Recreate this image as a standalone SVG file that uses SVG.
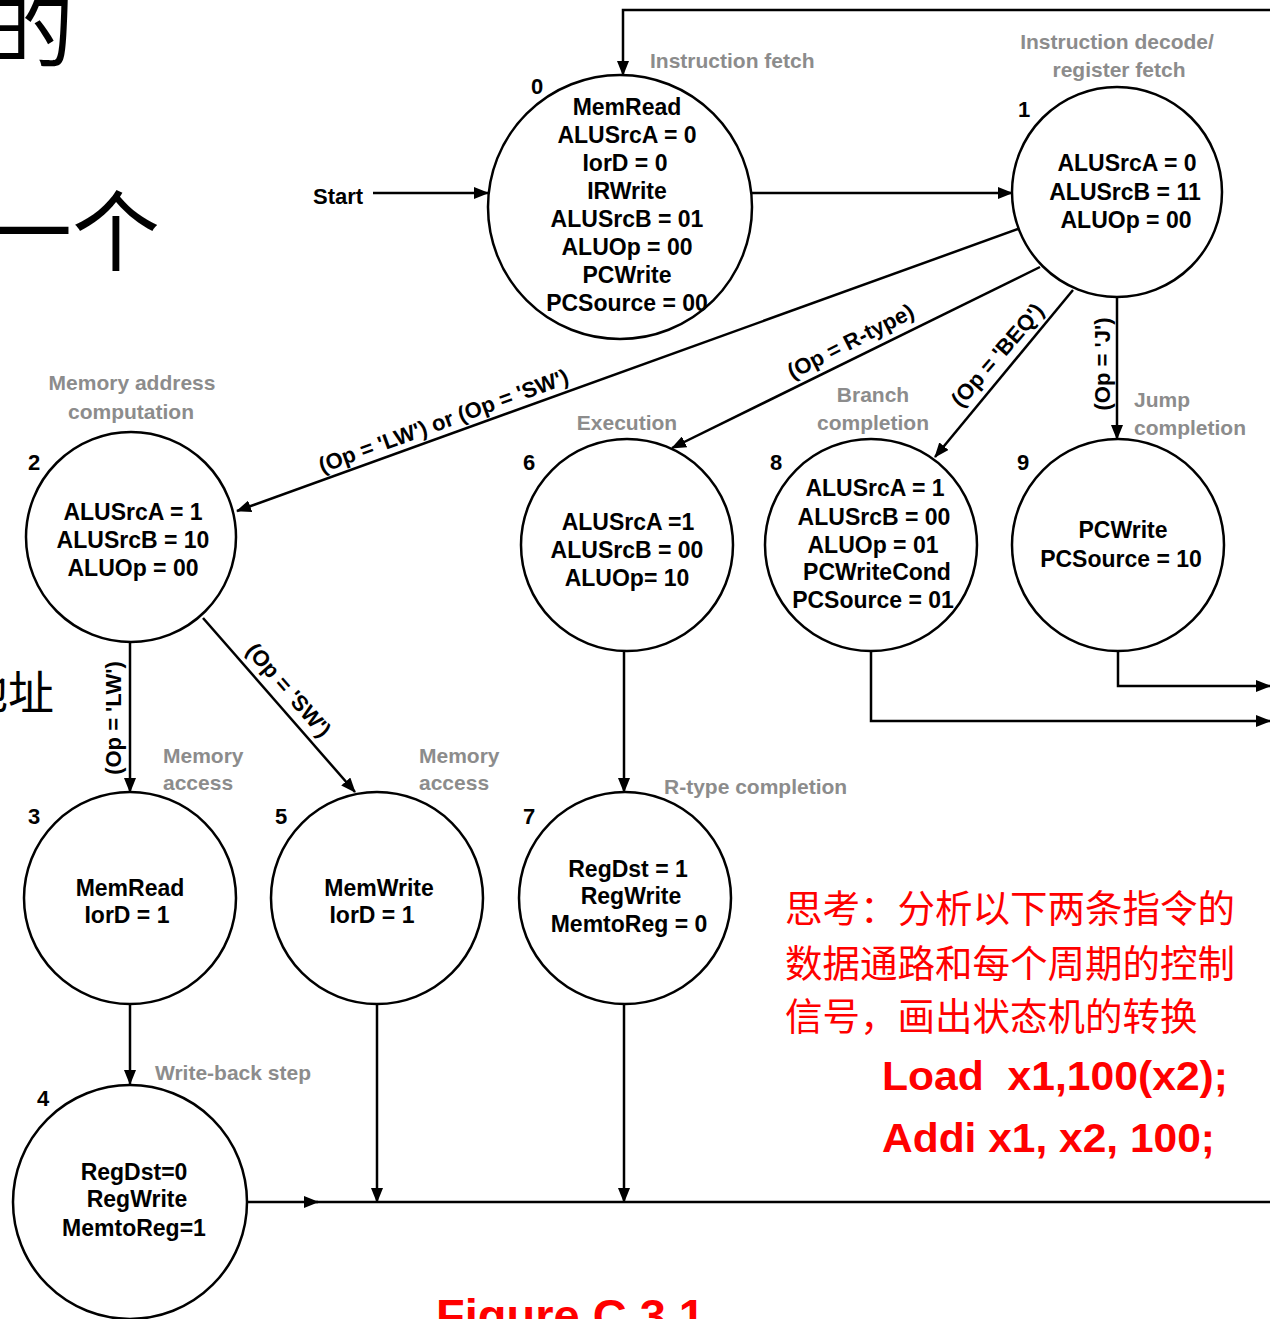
<svg xmlns="http://www.w3.org/2000/svg" width="1270" height="1319" viewBox="0 0 1270 1319">
<defs>
<marker id="ah" markerWidth="15" markerHeight="12" refX="14" refY="6" orient="auto" markerUnits="userSpaceOnUse"><path d="M0,0 L15,6 L0,12 z" fill="#000"/></marker>
<style>
.st{fill:#fff;stroke:#000;stroke-width:2.5}
.t{font-family:"Liberation Sans",Arial,sans-serif;font-weight:bold;font-size:23px;fill:#000;text-anchor:middle}
.n{font-family:"Liberation Sans",Arial,sans-serif;font-weight:bold;font-size:22px;fill:#000}
.g{font-family:"Liberation Sans",Arial,sans-serif;font-weight:bold;font-size:21px;fill:#8c8c8c}
.gm{text-anchor:middle}
.lb{font-family:"Liberation Sans",Arial,sans-serif;font-weight:bold;font-size:22px;fill:#000;text-anchor:middle}
.c{fill:none;stroke:#000;stroke-width:2.5}
.a{marker-end:url(#ah)}
.cjk{font-family:"Noto Sans CJK SC","Noto Sans CJK JP",sans-serif}
.red{fill:#ff0000}
.rb{font-family:"Liberation Sans",Arial,sans-serif;font-weight:bold;fill:#ff0000}
</style>
</defs>
<rect width="1270" height="1319" fill="#fff"/>

<!-- background slide text -->
<text class="cjk" x="-14" y="60" font-size="88" fill="#000">的</text>
<text class="cjk" x="-16" y="264" font-size="88" fill="#000">一个</text>
<text class="cjk" x="-38" y="709" font-size="46" fill="#000">地址</text>

<!-- connectors -->
<g id="connectors">
<path class="c a" d="M373,193 H488"/>
<path class="c a" d="M752,193 H1012"/>
<path class="c a" d="M1270,10 H623 V75"/>
<path class="c a" d="M1018,229 L237,511"/>
<path class="c a" d="M1040,267 L672,448"/>
<path class="c a" d="M1073,290 L935,457"/>
<path class="c a" d="M1117,297 V439"/>
<path class="c a" d="M130,643 V792"/>
<path class="c a" d="M203,618 L355,792"/>
<path class="c a" d="M624,651 V792"/>
<path class="c a" d="M130,1004 V1084"/>
<path class="c a" d="M377,1004 V1202"/>
<path class="c a" d="M624,1004 V1202"/>
<path class="c a" d="M247,1202 H318"/>
<path class="c" d="M316,1202 H1270"/>
<path class="c a" d="M1118,651 V686 H1270"/>
<path class="c a" d="M871,651 V721 H1270"/>
<text class="n" x="313" y="204">Start</text>
<text class="lb" transform="translate(446,428) rotate(-20)">(Op = 'LW') or (Op = 'SW')</text>
<text class="lb" transform="translate(854,348) rotate(-27)">(Op = R-type)</text>
<text class="lb" transform="translate(1003,360) rotate(-49)">(Op = 'BEQ')</text>
<text class="lb" transform="translate(1110,364) rotate(-90)">(Op = 'J')</text>
<text class="lb" transform="translate(121,718) rotate(-90)">(Op = 'LW')</text>
<text class="lb" transform="translate(283,695) rotate(49)">(Op = 'SW')</text>
</g>

<!-- phase labels -->
<g id="phase-labels">
<text class="g" x="650" y="68">Instruction fetch</text>
<text class="g gm" x="1117" y="49">Instruction decode/</text>
<text class="g gm" x="1119" y="77">register fetch</text>
<text class="g gm" x="132" y="390">Memory address</text>
<text class="g gm" x="131" y="419">computation</text>
<text class="g gm" x="627" y="430">Execution</text>
<text class="g gm" x="873" y="402">Branch</text>
<text class="g gm" x="873" y="430">completion</text>
<text class="g" x="1134" y="407">Jump</text>
<text class="g" x="1134" y="435">completion</text>
<text class="g" x="163" y="763">Memory</text>
<text class="g" x="163" y="790">access</text>
<text class="g" x="419" y="763">Memory</text>
<text class="g" x="419" y="790">access</text>
<text class="g" x="664" y="794">R-type completion</text>
<text class="g" x="155" y="1080">Write-back step</text>
</g>

<!-- states -->
<g id="state0">
<circle class="st" cx="620" cy="207" r="132"/>
<text class="n" x="531" y="94">0</text>
<text class="t" x="627" y="115">MemRead</text>
<text class="t" x="627" y="143">ALUSrcA = 0</text>
<text class="t" x="625" y="171">IorD = 0</text>
<text class="t" x="627" y="199">IRWrite</text>
<text class="t" x="627" y="227">ALUSrcB = 01</text>
<text class="t" x="627" y="255">ALUOp = 00</text>
<text class="t" x="627" y="283">PCWrite</text>
<text class="t" x="627" y="311">PCSource = 00</text>
</g>
<g id="state1">
<circle class="st" cx="1117" cy="192" r="105"/>
<text class="n" x="1018" y="117">1</text>
<text class="t" x="1127" y="171">ALUSrcA = 0</text>
<text class="t" x="1125" y="200">ALUSrcB = 11</text>
<text class="t" x="1126" y="228">ALUOp = 00</text>
</g>
<g id="state2">
<circle class="st" cx="131" cy="537" r="105"/>
<text class="n" x="28" y="470">2</text>
<text class="t" x="133" y="520">ALUSrcA = 1</text>
<text class="t" x="133" y="548">ALUSrcB = 10</text>
<text class="t" x="133" y="576">ALUOp = 00</text>
</g>
<g id="state6">
<circle class="st" cx="627" cy="545" r="106"/>
<text class="n" x="523" y="470">6</text>
<text class="t" x="628" y="530">ALUSrcA =1</text>
<text class="t" x="627" y="558">ALUSrcB = 00</text>
<text class="t" x="627" y="586">ALUOp= 10</text>
</g>
<g id="state8">
<circle class="st" cx="871" cy="545" r="106"/>
<text class="n" x="770" y="470">8</text>
<text class="t" x="875" y="496">ALUSrcA = 1</text>
<text class="t" x="874" y="525">ALUSrcB = 00</text>
<text class="t" x="873" y="553">ALUOp = 01</text>
<text class="t" x="877" y="580">PCWriteCond</text>
<text class="t" x="873" y="608">PCSource = 01</text>
</g>
<g id="state9">
<circle class="st" cx="1118" cy="545" r="106"/>
<text class="n" x="1017" y="470">9</text>
<text class="t" x="1123" y="538">PCWrite</text>
<text class="t" x="1121" y="567">PCSource = 10</text>
</g>
<g id="state3">
<circle class="st" cx="130" cy="898" r="106"/>
<text class="n" x="28" y="824">3</text>
<text class="t" x="130" y="896">MemRead</text>
<text class="t" x="127" y="923">IorD = 1</text>
</g>
<g id="state5">
<circle class="st" cx="377" cy="898" r="106"/>
<text class="n" x="275" y="824">5</text>
<text class="t" x="379" y="896">MemWrite</text>
<text class="t" x="372" y="923">IorD = 1</text>
</g>
<g id="state7">
<circle class="st" cx="625" cy="898" r="106"/>
<text class="n" x="523" y="824">7</text>
<text class="t" x="628" y="877">RegDst = 1</text>
<text class="t" x="631" y="904">RegWrite</text>
<text class="t" x="629" y="932">MemtoReg = 0</text>
</g>
<g id="state4">
<circle class="st" cx="130" cy="1202" r="117"/>
<text class="n" x="37" y="1106">4</text>
<text class="t" x="134" y="1180">RegDst=0</text>
<text class="t" x="137" y="1207">RegWrite</text>
<text class="t" x="134" y="1236">MemtoReg=1</text>
</g>

<!-- red notes -->
<g id="notes">
<text class="cjk red" x="785" y="922" font-size="37.5">思考：分析以下两条指令的</text>
<text class="cjk red" x="785" y="977" font-size="37.5">数据通路和每个周期的控制</text>
<text class="cjk red" x="785" y="1030" font-size="37.5">信号，画出状态机的转换</text>
<text class="rb" x="882" y="1090" font-size="41" xml:space="preserve" textLength="346" lengthAdjust="spacingAndGlyphs">Load  x1,100(x2);</text>
<text class="rb" x="882" y="1152" font-size="41" textLength="333" lengthAdjust="spacingAndGlyphs">Addi x1, x2, 100;</text>
<text class="rb" x="436" y="1332" font-size="47">Figure C.3.1</text>
<text class="n" x="1172" y="1338" font-size="30">23</text>
</g>
</svg>
